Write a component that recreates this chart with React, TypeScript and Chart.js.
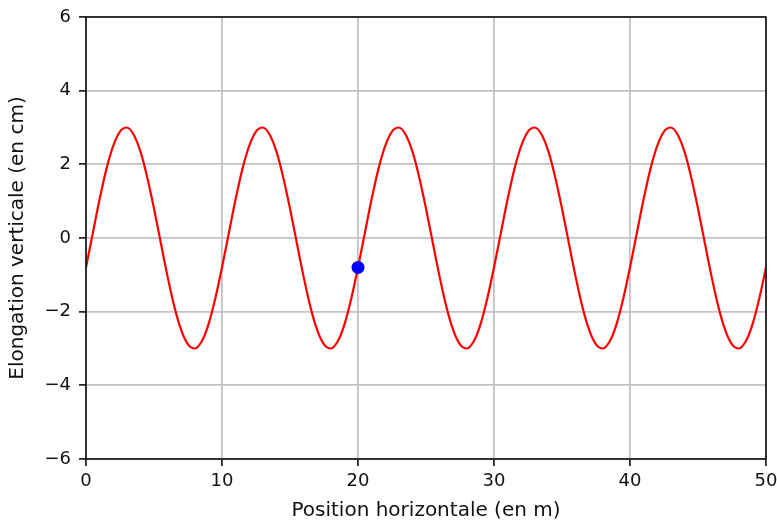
import React, { useEffect, useRef } from "react";
import { Chart, registerables } from "chart.js";

Chart.register(...registerables);

// Horizontal positions sampled every 0.5 m from 0 to 50
const xStep = 0.5;
// Vertical elongation (cm) at each sample
const elongation: number[] = [
  -0.8, 0.13, 1.05, 1.87, 2.5, 2.89, 3.0, 2.81, 2.35, 1.65,
  0.8, -0.13, -1.05, -1.87, -2.5, -2.89, -3.0, -2.81, -2.35, -1.65,
  -0.8, 0.13, 1.05, 1.87, 2.5, 2.89, 3.0, 2.81, 2.35, 1.65,
  0.8, -0.13, -1.05, -1.87, -2.5, -2.89, -3.0, -2.81, -2.35, -1.65,
  -0.8, 0.13, 1.05, 1.87, 2.5, 2.89, 3.0, 2.81, 2.35, 1.65,
  0.8, -0.13, -1.05, -1.87, -2.5, -2.89, -3.0, -2.81, -2.35, -1.65,
  -0.8, 0.13, 1.05, 1.87, 2.5, 2.89, 3.0, 2.81, 2.35, 1.65,
  0.8, -0.13, -1.05, -1.87, -2.5, -2.89, -3.0, -2.81, -2.35, -1.65,
  -0.8, 0.13, 1.05, 1.87, 2.5, 2.89, 3.0, 2.81, 2.35, 1.65,
  0.8, -0.13, -1.05, -1.87, -2.5, -2.89, -3.0, -2.81, -2.35, -1.65,
  -0.8,
];

// The highlighted point
const pointX = [20];
const pointY = [-0.8];

const xTitle = "Position horizontale (en m)";
const yTitle = "Elongation verticale (en cm)";

const framePlugin = {
  id: "frame",
  afterDatasetsDraw(chart: any) {
    const { ctx, chartArea } = chart;
    ctx.save();
    ctx.strokeStyle = "#000";
    ctx.lineWidth = 1.5;
    ctx.strokeRect(
      chartArea.left,
      chartArea.top,
      chartArea.right - chartArea.left,
      chartArea.bottom - chartArea.top
    );
    ctx.restore();
  },
};

export default function App() {
  const ref = useRef<HTMLCanvasElement>(null);

  useEffect(() => {
    if (!ref.current) return;
    const lineData = elongation.map((y, i) => ({ x: i * xStep, y }));
    const ptData = pointX.map((x, i) => ({ x, y: pointY[i] }));
    const tickFont = { family: "DejaVu Sans", size: 18 };
    const titleFont = { family: "DejaVu Sans", size: 20, lineHeight: 1 };
    const chart = new Chart(ref.current, {
      type: "scatter",
      data: {
        datasets: [
          {
            data: ptData,
            backgroundColor: "#0000ff",
            borderWidth: 0,
            pointRadius: 6.5,
            showLine: false,
            order: 0,
          },
          {
            data: lineData,
            borderColor: "#ff0000",
            borderWidth: 2.2,
            pointRadius: 0,
            showLine: true,
            cubicInterpolationMode: "monotone",
            order: 1,
          },
        ],
      } as any,
      options: {
        animation: false,
        responsive: false,
        layout: { padding: { top: 17, right: 11, left: 0, bottom: 0 } },
        plugins: {
          legend: { display: false },
          tooltip: { enabled: false },
        },
        scales: {
          x: {
            type: "linear",
            min: 0,
            max: 50,
            afterFit(scale: any) {
              scale.height = 62;
              scale.paddingLeft = 0;
              scale.paddingRight = 0;
            },
            ticks: {
              stepSize: 10,
              color: "#111",
              font: tickFont,
              padding: 5,
              maxRotation: 0,
            },
            grid: {
              color: "#c2c2c2",
              lineWidth: 1.8,
              tickColor: "#000",
              tickWidth: 1.5,
              tickLength: 7,
            },
            border: { display: false },
            title: {
              display: true,
              text: xTitle,
              color: "#111",
              font: titleFont,
              padding: { top: 0, bottom: 0 },
            },
          },
          y: {
            type: "linear",
            min: -6,
            max: 6,
            afterFit(scale: any) {
              scale.width = 86;
              scale.paddingTop = 0;
              scale.paddingBottom = 0;
            },
            ticks: {
              stepSize: 2,
              color: "#111",
              font: tickFont,
              padding: 8,
              callback: (v: any) => String(v).replace("-", "\u2212"),
            },
            grid: {
              color: "#c2c2c2",
              lineWidth: 1.8,
              tickColor: "#000",
              tickWidth: 1.5,
              tickLength: 7,
            },
            border: { display: false },
            title: {
              display: true,
              text: yTitle,
              color: "#111",
              font: titleFont,
              padding: { top: 8, bottom: 0 },
            },
          },
        },
      } as any,
      plugins: [framePlugin],
    });
    return () => chart.destroy();
  }, []);

  return (
    <canvas
      ref={ref}
      width={777}
      height={521}
      style={{ position: "absolute", left: 0, top: 0, display: "block" }}
    />
  );
}
